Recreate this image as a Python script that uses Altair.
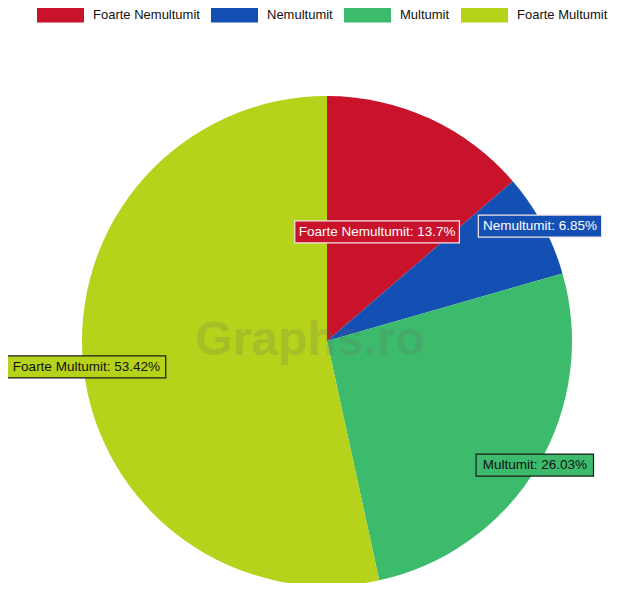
import altair as alt
import pandas as pd

categories = ["Foarte Nemultumit", "Nemultumit", "Multumit", "Foarte Multumit"]
values = [13.7, 6.85, 26.03, 53.42]
colors = ["#C9132B", "#1450B4", "#3DBB6C", "#B6D21A"]
watermark = ["Graphs.ro"]

df = pd.DataFrame({"cat": categories, "val": values, "idx": list(range(len(categories)))})

CX, CY, R = 319, 333, 245
FONT = "Liberation Sans"

color = alt.Color(
    "cat:N",
    scale=alt.Scale(domain=categories, range=colors),
    legend=alt.Legend(
        title=None,
        orient="none",
        legendX=29,
        legendY=-17,
        direction="horizontal",
        symbolType="M-1,-0.32L1,-0.32L1,0.32L-1,0.32Z",
        symbolSize=2209,
        symbolStrokeWidth=0,
        symbolOpacity=1,
        labelFont=FONT,
        labelFontSize=13,
        labelColor="#111111",
        labelOffset=9,
        columnPadding=11,
        labelLimit=200,
    ),
)

pie = alt.Chart(df).mark_arc(outerRadius=R).encode(
    theta=alt.Theta("val:Q", stack=True),
    color=color,
    order=alt.Order("idx:Q"),
    x=alt.value(CX),
    y=alt.value(CY),
)

wm = alt.Chart(pd.DataFrame({"t": watermark})).mark_text(
    font=FONT, fontSize=48, fontWeight="bold", color="#666666", opacity=0.18
).encode(x=alt.value(302), y=alt.value(333), text="t:N")

base = alt.Chart(df).transform_window(
    cum="sum(val)", sort=[alt.SortField("idx")], frame=[None, 0]
).transform_joinaggregate(tot="sum(val)").transform_calculate(
    ang="(datum.cum - datum.val/2) / datum.tot * 2 * PI",
    r="datum.idx == 0 ? 120 : 242",
    lx=f"{CX} + datum.r * sin(datum.ang)",
    ly=f"{CY} - datum.r * cos(datum.ang)",
    label="datum.cat + ': ' + datum.val + '%'",
    bw="23 + 5.9 * length(datum.label)",
    x1="datum.lx - datum.bw / 2",
    x2="datum.lx + datum.bw / 2",
    y1="datum.ly - 11",
    y2="datum.ly + 11",
)

boxes = base.mark_rect(strokeWidth=1.2).encode(
    x=alt.X("x1:Q", scale=None),
    x2="x2:Q",
    y=alt.Y("y1:Q", scale=None),
    y2="y2:Q",
    color=alt.Color("cat:N", scale=alt.Scale(domain=categories, range=colors), legend=None),
    stroke=alt.condition("datum.idx < 2", alt.value("#f4e6e8"), alt.value("#1a1a1a")),
)

texts = base.mark_text(font=FONT, fontSize=13.5, align="center", baseline="middle").encode(
    x=alt.X("lx:Q", scale=None),
    y=alt.Y("ly:Q", scale=None),
    text="label:N",
    color=alt.condition("datum.idx < 2", alt.value("#ffffff"), alt.value("#111111")),
)

chart = alt.layer(pie, wm, boxes, texts).properties(
    width=602,
    height=575,
    autosize=alt.AutoSizeParams(type="none"),
    padding=0,
).configure_view(stroke=None)

chart.save("out.html", embed_options={"renderer": "svg", "actions": False})
